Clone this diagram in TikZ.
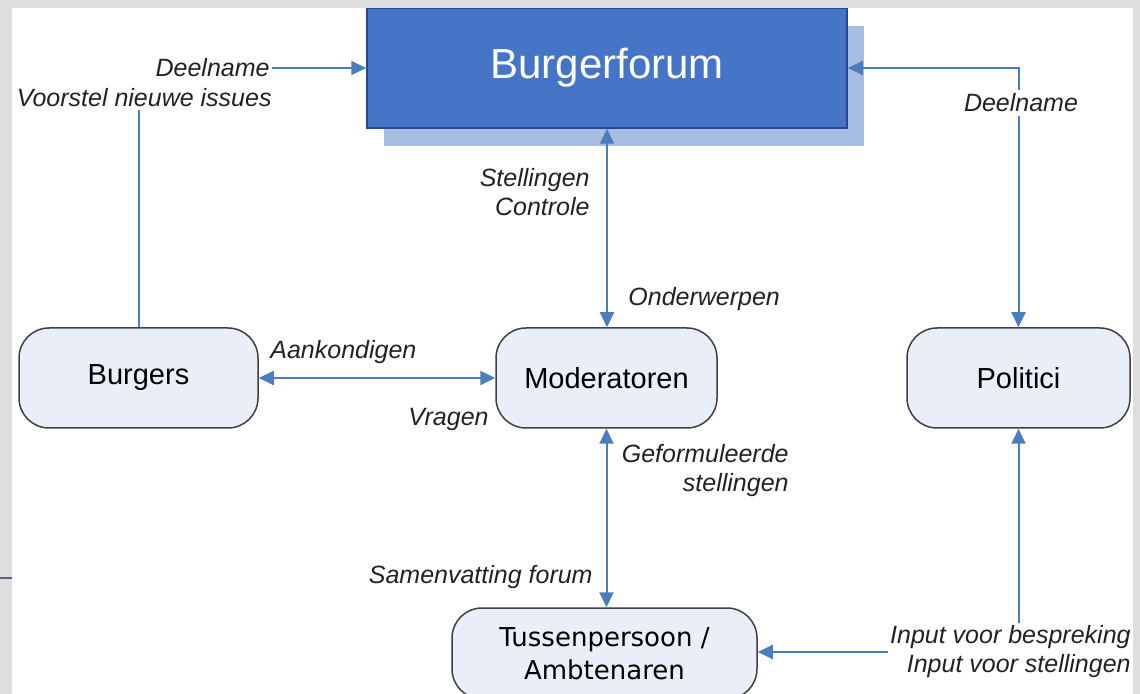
\documentclass[tikz,border=0pt]{standalone}
\usepackage{fontspec}
\setmainfont{Liberation Sans}
\newfontfamily\tusfont{DejaVu Sans}
\usetikzlibrary{arrows.meta,positioning}
\definecolor{linkblue}{RGB}{74,126,189}
\definecolor{forumblue}{RGB}{70,116,198}
\definecolor{forumedge}{RGB}{38,72,146}
\definecolor{forumshade}{RGB}{168,189,226}
\definecolor{boxfill}{RGB}{233,238,248}
\definecolor{framegray}{RGB}{222,222,222}
\definecolor{tabline}{RGB}{92,94,160}
\definecolor{labeltext}{RGB}{34,34,34}

\begin{document}
\begin{tikzpicture}[x=0.5pt,y=-0.5pt,
  box/.style={draw=black!75,line width=0.75pt,fill=boxfill,rounded corners=15pt,minimum height=50pt,font=\fontsize{14.5}{17}\selectfont},
  lbl/.style={inner sep=1pt,align=right,text=labeltext,font=\fontsize{12.5}{14.5}\selectfont\itshape},
  conn/.style={linkblue,line width=1pt},
  >={Triangle[length=7.5pt,width=7pt]}]
\useasboundingbox (0,0) rectangle (1140,694);
\fill[white] (0,0) rectangle (1140,694);

\fill[forumshade] (384,26) rectangle (864,146);
\node[draw=forumedge,line width=0.75pt,fill=forumblue,minimum width=240pt,minimum height=60pt,text=white,font=\fontsize{21}{25}\selectfont] (forum) at (607,68) {Burgerforum};
\node[box,minimum width=119.5pt] (burg) at (138.5,378) {Burgers};
\node[box,minimum width=110.5pt] (mod) at (606.5,378) {Moderatoren};
\node[box,minimum width=111.5pt] (pol) at (1018.5,378) {Politici};
\node[box,minimum width=152.5pt,minimum height=45.5pt,align=center,font=\tusfont\fontsize{13}{16.5}\selectfont] (tus) at (604.5,653.5) {Tussenpersoon /\\Ambtenaren};

\node[lbl,anchor=east] (deel) at (272,68) {Deelname};
\node[lbl,anchor=east] (voor) at (274,98) {Voorstel nieuwe issues};
\node[lbl,anchor=east] (stel) at (592,192) {Stellingen\\Controle};
\node[lbl,anchor=west] (onder) at (626,299) {Onderwerpen};
\node[lbl,anchor=west] (aank) at (268,352) {Aankondigen};
\node[lbl,anchor=east] (vrag) at (491,419) {Vragen};
\node[lbl,anchor=east] (gefo) at (791,471) {Geformuleerde\\stellingen};
\node[lbl,anchor=east] (samen) at (595,577) {Samenvatting forum};
\node[lbl,anchor=east] (input) at (1133,652) {Input voor bespreking\\Input voor stellingen};

\draw[conn] (burg.north) -- (burg.north |- voor.south);
\draw[conn,->] (deel.east) -- (deel.east -| forum.west);
\draw[conn,<->] (forum.south) -- (forum.south |- mod.north);
\draw[conn,<->] (forum.east) -| (pol.north);
\draw[conn,<->] (burg) -- (mod);
\draw[conn,<->] (mod.south) -- (mod.south |- tus.north);
\draw[conn,->] (input.north -| pol.south) -- (pol.south);
\draw[conn,->] (input.west) -- (input.west -| tus.east);
\node[lbl,fill=white,inner sep=2pt] (deel2) at (1021,103) {Deelname};

\fill[framegray,even odd rule] (0,0) rectangle (1140,694) (12,8) rectangle (1133,700);
\draw[tabline,line width=1pt] (0,578) -- (12,578);
\end{tikzpicture}
\end{document}
